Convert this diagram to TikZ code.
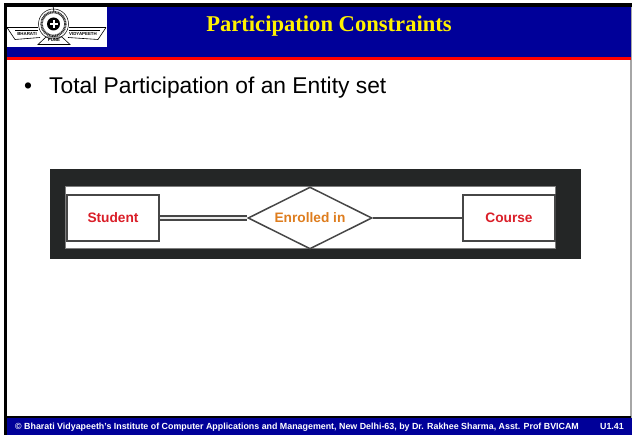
\documentclass[tikz,border=0pt]{standalone}
\usepackage{fontspec}
\setmainfont{Liberation Sans}
\newfontfamily\serifbold{Liberation Serif}[BoldFont={Liberation Serif Bold}]
\definecolor{navy}{RGB}{0,0,153}
\definecolor{frame}{RGB}{36,38,38}
\definecolor{edgegray}{RGB}{70,70,70}
\definecolor{entred}{RGB}{218,30,40}
\definecolor{relorange}{RGB}{222,125,30}
\usetikzlibrary{shapes.geometric}
\tikzset{
  x=1pt,y=-1pt,
  band/.style={fill=navy,draw=none},
  entity/.style={draw=edgegray,line width=1.9pt,fill=white,minimum width=92pt,minimum height=46pt,inner sep=0pt,
    font=\fontsize{13.7}{16}\selectfont\bfseries,text=entred},
  relation/.style={draw=edgegray,line width=1.5pt,fill=white,shape=diamond,aspect=2,minimum width=124pt,minimum height=62pt,inner sep=0pt,
    font=\fontsize{13.7}{16}\selectfont\bfseries,text=relorange},
  conn/.style={draw=edgegray,line width=1.5pt},
  logoline/.style={draw=black,line width=0.6pt},
  foot/.style={font=\fontsize{8.87}{10}\selectfont\bfseries,text=white,inner sep=0pt},
}
\begin{document}
\begin{tikzpicture}
\useasboundingbox (0,0) rectangle (632,435);
\fill[white] (0,0) rectangle (632,435);
% slide frame
\fill[black] (4,3) rectangle (632,7);
\fill[black] (4,3) rectangle (7,435);
\fill[gray!70] (630,7) rectangle (632,418);
% header
\fill[band] (7,7) rectangle (631,57);
\fill[red] (7,57) rectangle (631,60);
\node[font=\serifbold\fontsize{22.6}{25}\selectfont\bfseries,text=yellow,inner sep=0pt] (title) at (329,26.5) {Participation Constraints};
% logo
\fill[white] (7,7) rectangle (107,47);
\draw[logoline] (53,6) -- (54,12);
\draw[black!80,line width=2.4pt,dash pattern=on 1pt off 0.6pt] (53.5,24) circle (12);
\draw[black,line width=0.5pt] (53.5,24) circle (15);
\fill[black] (53.5,24) circle (6.5);
\fill[white] (49.5,23) rectangle (57.5,25);
\fill[white] (52.5,20) rectangle (54.5,28);
\draw[logoline] (7,27.5) -- (38,27.5) (69,27.5) -- (106,27.5);
\draw[logoline] (15,30) -- (38,30) (69,30) -- (100,30);
\draw[logoline] (7,27.5) -- (15,39.5) -- (40,37.5) (106,27.5) -- (98,39.5) -- (68,37.5);
\draw[logoline] (38,44.5) -- (46,37) -- (62,37) -- (70,44.5) -- cycle;
\node[font=\fontsize{4.4}{5}\selectfont\bfseries,inner sep=0pt] (lg1) at (27,34) {BHARATI};
\node[font=\fontsize{4.4}{5}\selectfont\bfseries,inner sep=0pt] (lg2) at (83,34) {VIDYAPEETH};
\node[font=\fontsize{4.4}{5}\selectfont\bfseries,inner sep=0pt] (lg3) at (54,40.5) {PUNE};
% bullet
\node[anchor=base west,font=\fontsize{22.8}{26}\selectfont,inner sep=0pt] (bullet) at (24,93.5) {•};
\node[anchor=base west,font=\fontsize{22.8}{26}\selectfont,inner sep=0pt] (body) at (49,93.5) {Total Participation of an Entity set};
% ER image
\fill[frame] (50,169) rectangle (581,259);
\fill[white] (65.5,186.5) rectangle (555.5,248.5);
\draw[edgegray!70,line width=0.8pt] (65.5,186.5) rectangle (555.5,248.5);
\node[entity] (student) at (113,218) {Student};
\node[entity] (course) at (509,218) {Course};
\node[relation] (rel) at (310,218) {Enrolled in};
\fill[black!8] ([yshift=1.9pt]student.east) rectangle ([yshift=-1.9pt]rel.west);
\draw[conn] ([yshift=1.9pt]student.east) -- ([yshift=1.9pt]rel.west);
\draw[conn] ([yshift=-1.9pt]student.east) -- ([yshift=-1.9pt]rel.west);
\draw[conn] (rel.east) -- (course.west);
% footer
\fill[black] (7,416) rectangle (631,418);
\fill[band] (7,418) rectangle (632,435);
\node[foot,anchor=base west] (foot1) at (15,430) {© Bharati Vidyapeeth's Institute of Computer Applications and Management, New Delhi-63, by Dr. Rakhee Sharma, Asst. Prof BVICAM};
\node[foot,anchor=base east] (foot2) at (624,430) {U1.41};
\end{tikzpicture}
\end{document}
